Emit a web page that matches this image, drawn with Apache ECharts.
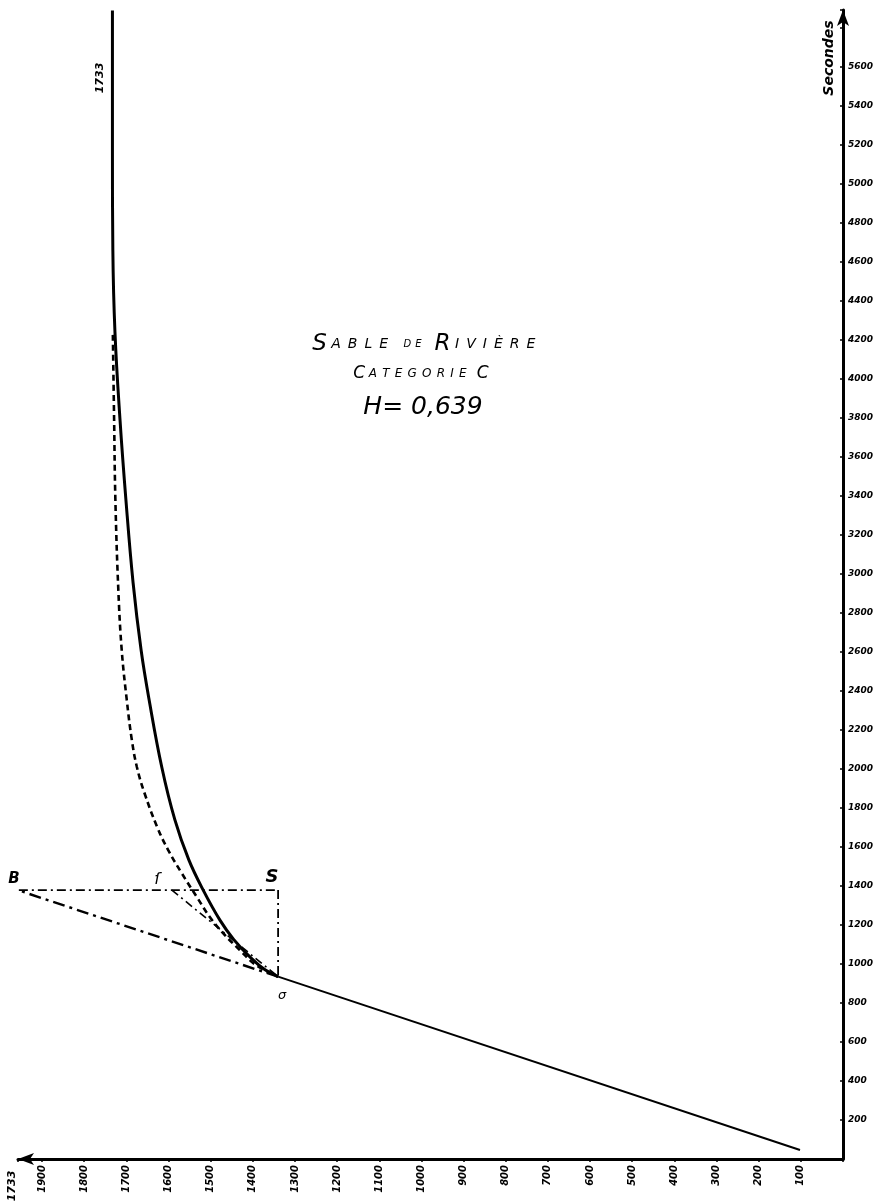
<!DOCTYPE html>
<html>
<head>
<meta charset="utf-8">
<title>Sable de rivière - catégorie C</title>
<script src="https://cdn.jsdelivr.net/npm/echarts@6/dist/echarts.min.js"></script>
<style>
  html, body { margin: 0; padding: 0; background: #fff; }
  #chart { width: 882px; height: 1204px; }
</style>
</head>
<body>
<div id="chart"></div>
<script>
// valeurs (abscisse, secondes)
const courbePleine = [
    [1733, 5890], [1733, 5170], [1732, 4660], [1727, 4240], [1715, 3790],
    [1701, 3380], [1684, 2955], [1665, 2610], [1646, 2355], [1616, 2010],
    [1585, 1740], [1552, 1535], [1518, 1380], [1478, 1225], [1445, 1125],
    [1404, 1030], [1371, 970], [1340, 935]
];
const courbePointillee = [
    [1732, 4226], [1729, 3790], [1726, 3380], [1719, 2918], [1711, 2610],
    [1699, 2354], [1687, 2149], [1675, 2010], [1657, 1877], [1627, 1703],
    [1601, 1585], [1569, 1467], [1533, 1344], [1502, 1241], [1471, 1159],
    [1431, 1072], [1393, 995], [1340, 935]
];
const droite = [[102, 46], [1340, 935]];
const droiteB = [[1340, 935], [1955, 1377]];
const horizontale = [[1955, 1379], [1340, 1379]];
const verticale = [[1340, 1379], [1340, 935]];
const droiteGamma = [[1592, 1379], [1340, 935]];

const xMax = 1957;
const yMax = 5892;
const xPas = 100;
const yPas = 200;
const yDernier = 5600;

const police = "DejaVu Sans";

const chart = echarts.init(document.getElementById("chart"));

function serie(data, width, type, smooth) {
    return {
        type: "line",
        data: data,
        smooth: smooth ? 0.4 : false,
        symbol: "none",
        silent: true,
        lineStyle: { color: "#000", width: width, type: type },
    };
}

// lettres espacées pour le titre manuscrit
function espace(mot, style) {
    return mot.split("").map((c) => (c === " " ? c : "{" + style + "|" + c + "}")).join("");
}

const lettre = (size, pad) => ({
    fontSize: size, fontStyle: "italic", fontFamily: police, fill: "#000", padding: [0, pad],
});

chart.setOption({
    animation: false,
    backgroundColor: "#fff",
    grid: { left: 18, right: 39, top: 10, bottom: 45 },
    xAxis: {
        type: "value",
        inverse: true,
        min: 0,
        max: xMax,
        interval: xPas,
        splitLine: { show: false },
        axisLine: {
            onZero: false,
            symbol: ["arrow", "none"],
            symbolSize: [9, 16],
            lineStyle: { color: "#000", width: 3 },
        },
        axisTick: { show: true, length: 3, lineStyle: { color: "#000", width: 1.5 } },
        axisLabel: {
            rotate: 90,
            margin: 6,
            color: "#000",
            fontFamily: police,
            fontStyle: "italic",
            fontWeight: "bold",
            fontSize: 10,
            formatter: function (v) {
                return v > 0 && v % xPas === 0 ? String(v) : "";
            },
        },
    },
    yAxis: {
        type: "value",
        position: "right",
        min: 0,
        max: yMax,
        interval: yPas,
        splitLine: { show: false },
        axisLine: {
            onZero: false,
            symbol: ["none", "arrow"],
            symbolSize: [9, 16],
            lineStyle: { color: "#000", width: 3 },
        },
        axisTick: { show: true, inside: true, length: 3, lineStyle: { color: "#000", width: 1.5 } },
        axisLabel: {
            margin: 5,
            color: "#000",
            fontFamily: police,
            fontStyle: "italic",
            fontWeight: "bold",
            fontSize: 9,
            formatter: function (v) {
                return v > 0 && v <= yDernier && v % yPas === 0 ? String(v) : "";
            },
        },
    },
    series: [
        serie(courbePleine, 3, "solid", true),
        serie(courbePointillee, 2.6, [6, 4], true),
        serie(droite, 2, "solid", false),
        serie(droiteB, 2.4, [12, 5, 3, 5], false),
        serie(horizontale, 1.8, [9, 4, 2, 4], false),
        serie(verticale, 1.8, [9, 4, 2, 4], false),
        serie(droiteGamma, 1.6, [8, 4, 2, 4], false),
    ],
    graphic: [
        {
            type: "text", x: 425, y: 344,
            style: {
                text: "{g|S}" + espace("ABLE", "b") + "   " + espace("DE", "c") + "   {g|R}" + espace("IVIÈRE", "b"),
                align: "center", verticalAlign: "middle",
                rich: {
                    g: lettre(23, 1),
                    b: lettre(14, 3.5),
                    c: lettre(10, 2),
                },
            },
        },
        {
            type: "text", x: 421, y: 374,
            style: {
                text: "{g|C}" + espace("ATEGORIE", "b") + "  {g|C}",
                align: "center", verticalAlign: "middle",
                rich: {
                    g: lettre(17, 1),
                    b: lettre(12, 2.6),
                },
            },
        },
        {
            type: "text", x: 423, y: 407,
            style: {
                text: "H= 0,639", align: "center", verticalAlign: "middle",
                fontSize: 25, fontStyle: "italic", fontFamily: police, fill: "#000",
            },
        },
        {
            type: "text", x: 829, y: 58, rotation: Math.PI / 2,
            style: {
                text: "Secondes", align: "center", verticalAlign: "middle",
                fontSize: 14, fontStyle: "italic", fontWeight: "bold", fontFamily: police, fill: "#000",
            },
        },
        {
            type: "text", x: 100, y: 78, rotation: Math.PI / 2,
            style: {
                text: "1733", align: "center", verticalAlign: "middle",
                fontSize: 11, fontStyle: "italic", fontWeight: "bold", fontFamily: police, fill: "#000",
            },
        },
        {
            type: "text", x: 12, y: 1186, rotation: Math.PI / 2,
            style: {
                text: "1733", align: "center", verticalAlign: "middle",
                fontSize: 11, fontStyle: "italic", fontWeight: "bold", fontFamily: police, fill: "#000",
            },
        },
        {
            type: "text", x: 14, y: 879,
            style: {
                text: "B", align: "center", verticalAlign: "middle",
                fontSize: 15, fontStyle: "italic", fontWeight: "bold", fontFamily: police, fill: "#000",
            },
        },
        {
            type: "text", x: 272, y: 877,
            style: {
                text: "S", align: "center", verticalAlign: "middle",
                fontSize: 18, fontStyle: "italic", fontWeight: "bold", fontFamily: police, fill: "#000",
            },
        },
        {
            type: "text", x: 157, y: 880,
            style: {
                text: "ſ", align: "center", verticalAlign: "middle",
                fontSize: 16, fontStyle: "italic", fontFamily: police, fill: "#000",
            },
        },
        {
            type: "text", x: 282, y: 996,
            style: {
                text: "σ", align: "center", verticalAlign: "middle",
                fontSize: 13, fontStyle: "italic", fontFamily: police, fill: "#000",
            },
        },
    ],
});
</script>
</body>
</html>
